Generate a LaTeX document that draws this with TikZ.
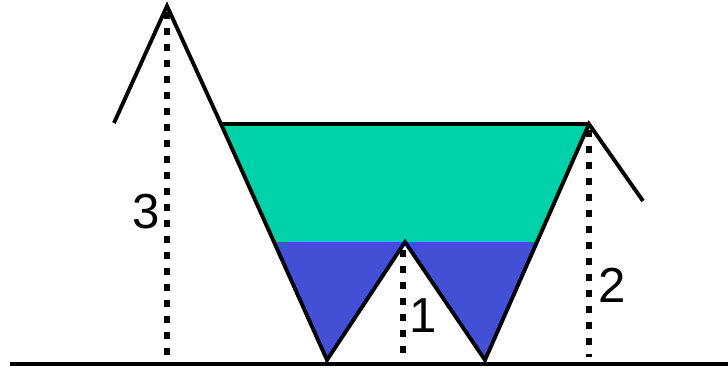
\documentclass[tikz,border=0pt]{standalone}
\usepackage{fontspec}
\setmainfont{Liberation Sans}
\usepackage{xcolor}
\definecolor{lakegreen}{HTML}{00D1A9}
\definecolor{lakeblue}{HTML}{4350D6}

\begin{document}
\begin{tikzpicture}[x=0.02cm, y=-0.02cm,
    ridge/.style={line width=2.2pt, line join=miter},
    ground/.style={line width=2.8pt},
    height/.style={line width=3.6pt, dash pattern=on 0.14cm off 0.18cm},
    label/.style={font=\fontsize{28}{28}\selectfont, inner sep=1pt},
]
\useasboundingbox (0,0) rectangle (728,369);
% terrain points
\coordinate (lslope) at (114,123);
\coordinate (lpeak) at (167,6);
\coordinate (ltop) at (221,124);
\coordinate (lbot) at (327,360);
\coordinate (mpeak) at (405,242);
\coordinate (rbot) at (485,360);
\coordinate (rtop) at (589,124);
\coordinate (rslope) at (643,201);
\coordinate (wl) at (274,242);
\coordinate (wr) at (537,242);
% water
\fill[lakegreen] (ltop) -- (rtop) -- (wr) -- (wl) -- cycle;
\fill[lakeblue] (wl) -- (wr) -- (rbot) -- (mpeak) -- (lbot) -- cycle;
\draw[ridge] (ltop) -- (rtop);
\draw[ridge] (lslope) -- (lpeak) -- (ltop) -- (lbot) -- (mpeak) -- (rbot) -- (rtop) -- (rslope);
% ground
\coordinate (g0) at (10,364);
\coordinate (g1) at (728,364);
\draw[ground] (g0) -- (g1);
% heights
\coordinate (h3top) at (167,12);
\coordinate (h3bot) at (167,357);
\coordinate (h1top) at (403,250);
\coordinate (h1bot) at (403,366);
\coordinate (h2top) at (589,130);
\coordinate (h2bot) at (589,357);
\draw[height] (h3top) -- (h3bot);
\draw[height] (h1top) -- (h1bot);
\draw[height] (h2top) -- (h2bot);
\node[label] (h3) at (146,212) {3};
\node[label] (h1) at (423,316) {1};
\node[label] (h2) at (612,285) {2};
\end{tikzpicture}
\end{document}
